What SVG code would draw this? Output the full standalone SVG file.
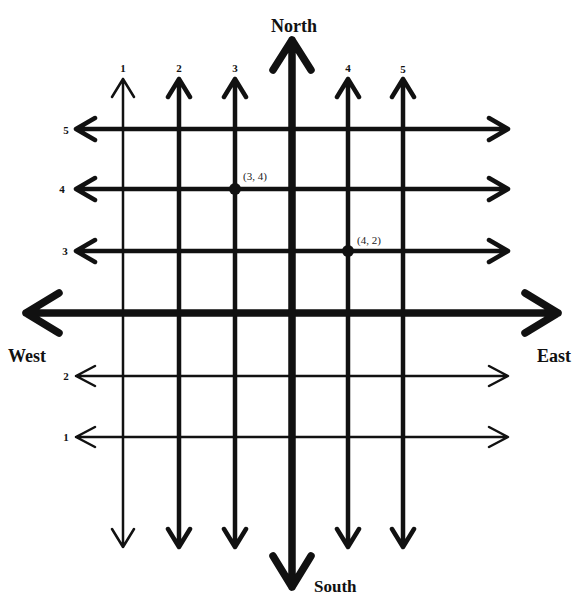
<svg xmlns="http://www.w3.org/2000/svg" width="573" height="597" viewBox="0 0 573 597">
<style>
.bg{fill:#fff}
.ln{stroke:#111;fill:none;stroke-linecap:round;stroke-linejoin:round}
.thin{stroke-width:2.5}
.med{stroke-width:4.5}
.axis{stroke-width:7.5}
.lbl{font-family:"Liberation Serif",serif;font-weight:bold;fill:#111}
.num{font-size:11px;text-anchor:middle}
.dir{font-size:18px}
.pt{font-size:11px;font-weight:normal;fill:#222}
.dot{fill:#111}
</style>
<rect class="bg" width="573" height="597"/>
<g id="connectors">
  <!-- horizontal grid lines -->
  <g id="h5"><path class="ln med" d="M76 129H507M95 118L76 129L95 140M489 118L508 129L489 140"/></g>
  <g id="h4"><path class="ln med" d="M76 189H507M95 178L76 189L95 200M489 178L508 189L489 200"/></g>
  <g id="h3"><path class="ln med" d="M76 251H507M95 240L76 251L95 262M489 240L508 251L489 262"/></g>
  <g id="h2"><path class="ln thin" d="M76 376H507M95 366L76 376L95 386M489 366L508 376L489 386"/></g>
  <g id="h1"><path class="ln thin" d="M76 437H507M95 427L76 437L95 447M489 427L508 437L489 447"/></g>
  <!-- vertical grid lines -->
  <g id="v1"><path class="ln thin" d="M123 79V547M112 97L123 79L134 97M112 529L123 547L134 529"/></g>
  <g id="v2"><path class="ln med" d="M179 79V547M168 97L179 79L190 97M168 529L179 547L190 529"/></g>
  <g id="v3"><path class="ln med" d="M235 79V547M224 97L235 79L246 97M224 529L235 547L246 529"/></g>
  <g id="v4"><path class="ln med" d="M348 79V547M337 97L348 79L359 97M337 529L348 547L359 529"/></g>
  <g id="v5"><path class="ln med" d="M403 79V547M392 97L403 79L414 97M392 529L403 547L414 529"/></g>
  <!-- main axes -->
  <g id="ew-axis"><path class="ln axis" d="M26 313H558M59 293L26 313L59 333M525 293L558 313L525 333"/></g>
  <g id="ns-axis"><path class="ln axis" d="M292 40V587M273 70L292 40L311 70M273 556L292 587L311 556"/></g>
</g>
<g id="labels">
  <text class="lbl dir" x="294" y="32" text-anchor="middle">North</text>
  <text class="lbl dir" x="314" y="592" style="font-size:17px">South</text>
  <text class="lbl dir" x="8" y="362">West</text>
  <text class="lbl dir" x="537" y="362">East</text>
  <text class="lbl num" x="123" y="72">1</text>
  <text class="lbl num" x="179" y="72">2</text>
  <text class="lbl num" x="235" y="72">3</text>
  <text class="lbl num" x="348" y="72">4</text>
  <text class="lbl num" x="403" y="73">5</text>
  <text class="lbl num" x="66" y="134">5</text>
  <text class="lbl num" x="62" y="193">4</text>
  <text class="lbl num" x="65" y="255">3</text>
  <text class="lbl num" x="66" y="380">2</text>
  <text class="lbl num" x="66" y="441">1</text>
</g>
<g id="point-3-4">
  <circle class="dot" cx="235" cy="189" r="6"/>
  <text class="lbl pt" x="243" y="180">(3, 4)</text>
</g>
<g id="point-4-2">
  <circle class="dot" cx="348" cy="251" r="6"/>
  <text class="lbl pt" x="357" y="244">(4, 2)</text>
</g>
</svg>
